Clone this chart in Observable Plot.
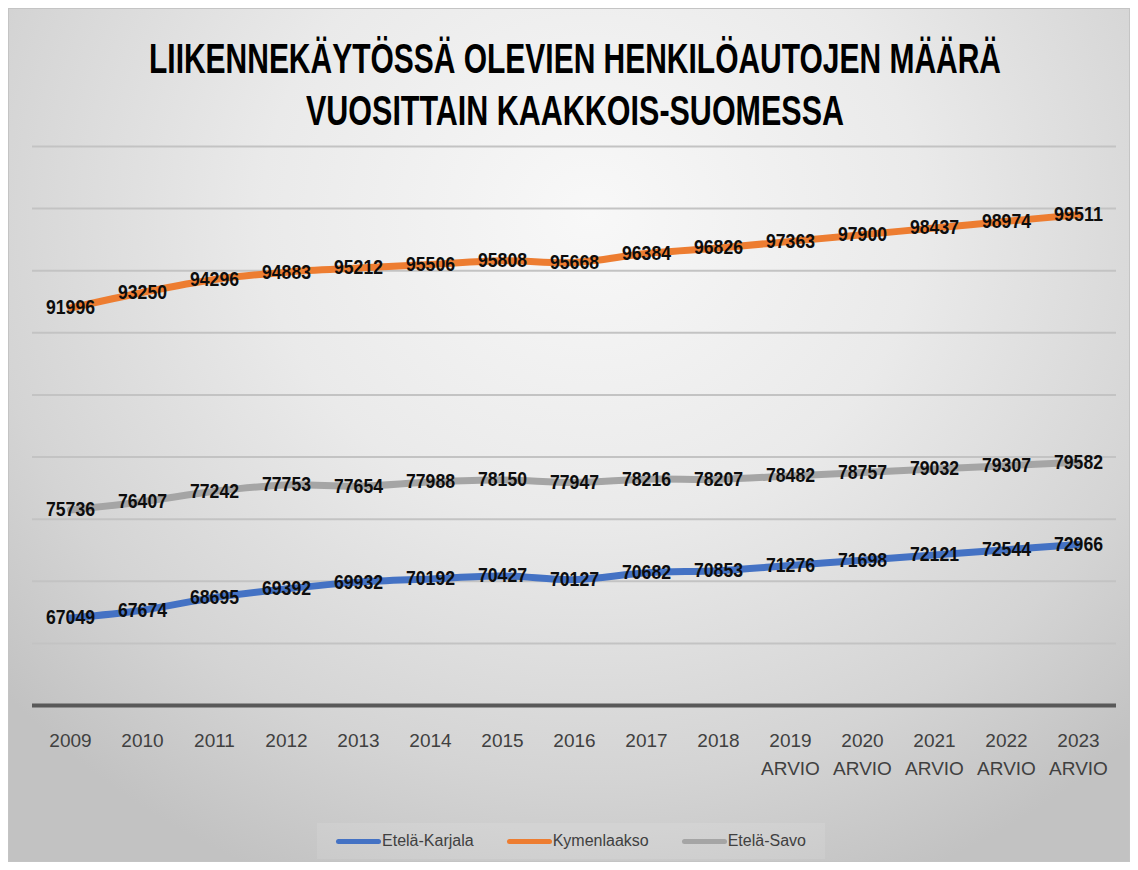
<!DOCTYPE html>
<html>
<head>
<meta charset="utf-8">
<script src="https://cdn.jsdelivr.net/npm/d3@7"></script>
<script src="https://cdn.jsdelivr.net/npm/@observablehq/plot@0.6"></script>
<style>
  html, body { margin: 0; padding: 0; background: #ffffff; }
  body { width: 1138px; height: 870px; position: relative; overflow: hidden;
         font-family: "Liberation Sans", Arial, sans-serif; }
  #panel { position: absolute; left: 8px; top: 8px; width: 1122px; height: 854px; box-sizing: border-box;
           border: 1px solid #c4c4c4;
           background: radial-gradient(ellipse 70% 85% at 52% 24%, #f8f8f8 0%, #eaeaea 42%, #d4d4d4 78%, #c2c2c2 100%); }
  .title { position: absolute; left: 0; width: 1138px; height: 50px; font-weight: bold;
           font-size: 42px; line-height: 1; color: #000; white-space: nowrap; }
  .title span { position: absolute; top: 0; left: 0; transform-origin: 0 0; }
  #chart { position: absolute; left: 0; top: 130px; }
  #legend { position: absolute; left: 317px; top: 823px; width: 508px; height: 36px;
            background: rgba(255,255,255,0.10); display: flex; align-items: center; justify-content: center;
            gap: 33px; font-size: 16px; color: #404040; }
  .item { display: flex; align-items: center; }
  .sw { width: 45px; height: 5px; border-radius: 3px; margin-right: 1px; }
</style>
</head>
<body>
<div id="panel"></div>
<div class="title" id="t1" style="top:38px"><span>LIIKENNEKÄYTÖSSÄ OLEVIEN HENKILÖAUTOJEN MÄÄRÄ</span></div>
<div class="title" id="t2" style="top:90px"><span>VUOSITTAIN KAAKKOIS-SUOMESSA</span></div>
<div id="chart"></div>
<div id="legend"></div>
<script>
// ---- data ----
const categories = ["2009", "2010", "2011", "2012", "2013", "2014", "2015", "2016", "2017", "2018",
  "2019\nARVIO", "2020\nARVIO", "2021\nARVIO", "2022\nARVIO", "2023\nARVIO"];
const seriesNames = ["Etelä-Karjala", "Kymenlaakso", "Etelä-Savo"];
const seriesColors = ["#4472C4", "#ED7D31", "#A5A5A5"];
const etelaKarjala = [67049, 67674, 68695, 69392, 69932, 70192, 70427, 70127, 70682, 70853, 71276, 71698, 72121, 72544, 72966];
const kymenlaakso = [91996, 93250, 94296, 94883, 95212, 95506, 95808, 95668, 96384, 96826, 97363, 97900, 98437, 98974, 99511];
const etelaSavo = [75736, 76407, 77242, 77753, 77654, 77988, 78150, 77947, 78216, 78207, 78482, 78757, 79032, 79307, 79582];
const yTicks = [60000, 65000, 70000, 75000, 80000, 85000, 90000, 95000, 100000, 105000];

const seriesValues = [etelaKarjala, kymenlaakso, etelaSavo];
const rows = [];
seriesNames.forEach((s, i) => seriesValues[i].forEach((v, j) => rows.push({series: s, cat: categories[j], value: v})));

const chart = Plot.plot({
  width: 1138,
  height: 670,
  marginLeft: 32,
  marginRight: 22,
  marginTop: 16,
  marginBottom: 95,
  style: {background: "transparent", fontFamily: '"Liberation Sans", Arial, sans-serif', overflow: "visible"},
  x: {type: "point", domain: categories, padding: 0.5, label: null},
  y: {domain: [60000, 105000], axis: null},
  color: {domain: seriesNames, range: seriesColors},
  marks: [
    Plot.ruleY(yTicks.slice(1), {stroke: "#c3c3c3", strokeWidth: 2}),
    Plot.ruleY([yTicks[0]], {stroke: "#595959", strokeWidth: 4}),
    Plot.axisX({tickSize: 0, tickPadding: 22, fontSize: 19, lineHeight: 1.45, fill: "#404040", label: null}),
    Plot.lineY(rows, {x: "cat", y: "value", z: "series", stroke: "series", strokeWidth: 7, curve: "catmull-rom"}),
    Plot.text(rows, {x: "cat", y: "value", text: d => String(d.value), fontSize: 20, fontWeight: "bold", fill: "#0d0d0d"})
  ]
});
document.getElementById("chart").appendChild(chart);

// condense the data labels a little (narrow bold look of the original)
d3.select(chart).selectAll('g[aria-label="text"] text')
  .attr("textLength", 49).attr("lengthAdjust", "spacingAndGlyphs");

// legend
const legend = document.getElementById("legend");
seriesNames.forEach((s, i) => {
  const it = document.createElement("div");
  it.className = "item";
  it.innerHTML = `<div class="sw" style="background:${seriesColors[i]}"></div><span>${s}</span>`;
  legend.appendChild(it);
});

// fit title widths, centred at x = 575
[["t1", 852], ["t2", 538]].forEach(([id, w]) => {
  const sp = document.querySelector("#" + id + " span");
  const cw = sp.getBoundingClientRect().width;
  sp.style.left = (575 - w / 2) + "px";
  sp.style.transform = `scaleX(${w / cw})`;
});
</script>
</body>
</html>
